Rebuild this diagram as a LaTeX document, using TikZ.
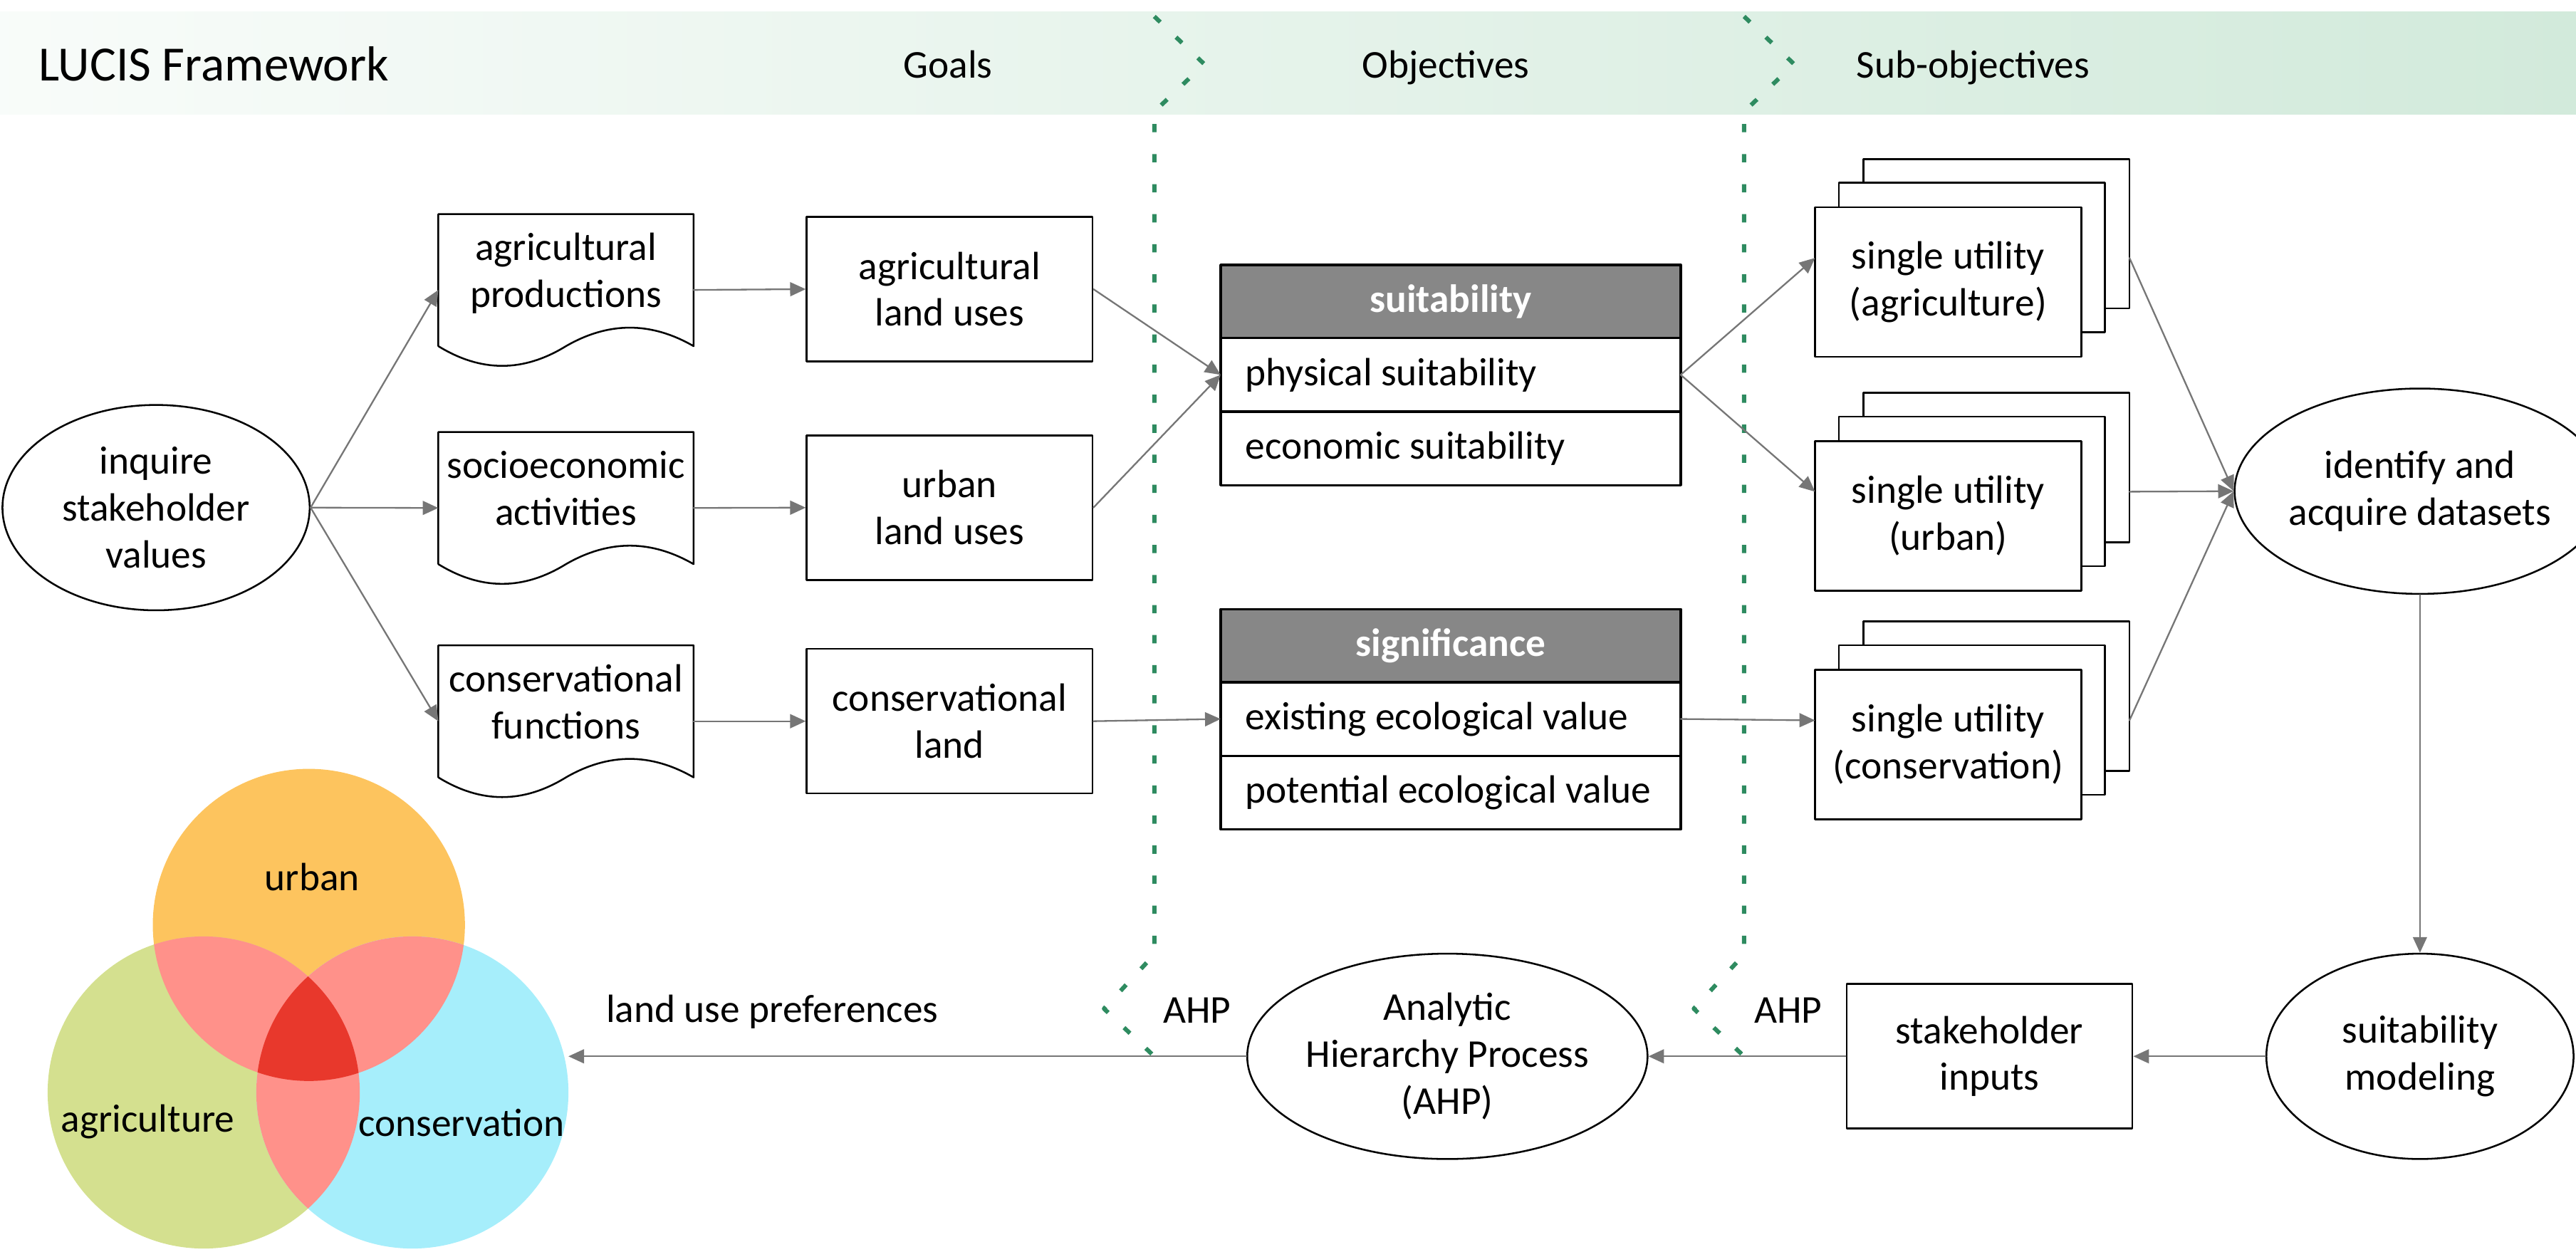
\documentclass[tikz,border=0pt]{standalone}
\usepackage{fontspec}
\setmainfont{Carlito}
\usepackage{tikz}
\newcommand{\rowtext}[1]{\makebox[250pt][l]{#1}}
\usetikzlibrary{calc}
\usetikzlibrary{arrows.meta}
\usetikzlibrary{positioning}
\usetikzlibrary{shapes.geometric}
\definecolor{bandgreen}{RGB}{210,234,219}
\definecolor{dashgreen}{RGB}{46,139,96}
\definecolor{headgray}{RGB}{135,135,135}
\definecolor{linegray}{RGB}{118,118,118}
\definecolor{urbc}{RGB}{253,196,94}
\definecolor{agric}{RGB}{212,224,143}
\definecolor{consc}{RGB}{166,238,251}
\definecolor{pairc}{RGB}{255,145,138}
\definecolor{triplec}{RGB}{232,56,44}
\tikzstyle{every node}=[font=\fontsize{24}{28.5}\selectfont]
\tikzstyle{ovalbox}=[ellipse,draw,line width=1.1pt,minimum width=187pt,minimum height=125pt,inner sep=0pt,align=center]
\tikzstyle{docbox}=[minimum width=155pt,minimum height=92pt,inner sep=0pt,text depth=24pt,align=center]
\tikzstyle{landbox}=[draw,line width=1.1pt,minimum width=174pt,minimum height=88pt,align=center]
\tikzstyle{tablehead}=[draw,fill=headgray,text=white,font=\fontsize{24}{28.5}\selectfont\bfseries,line width=1.5pt,minimum width=280pt,minimum height=44.5pt,outer sep=0pt]
\tikzstyle{tablerow}=[draw,line width=1.5pt,inner xsep=15pt,minimum width=280pt,minimum height=44.8pt,outer sep=0pt]
\tikzstyle{stackbox}=[minimum width=191pt,minimum height=120pt,inner sep=0pt]
\tikzstyle{utilbox}=[draw,fill=white,line width=1.1pt,minimum width=162pt,minimum height=91pt,align=center]
\tikzstyle{flow}=[draw=linegray,line width=1pt,->]
\tikzstyle{divider}=[draw=dashgreen,line width=2.6pt,line cap=butt,dash pattern=on 5pt off 13.3pt]

\begin{document}
\begin{tikzpicture}[line cap=round,line join=round,>={Triangle[length=9.5pt,width=8.5pt]},x=1pt,y=-1pt]
            \useasboundingbox (0,0) rectangle (1568,762);
            % header band
            \shade[left color=bandgreen!15,right color=bandgreen] (0,7.3) rectangle (1568,69.5);
            \node [anchor=base west,font=\fontsize{30}{36}\selectfont] (title) at (20,49) {LUCIS Framework};
            \node [anchor=base] (goals) at (577,47.6) {Goals};
            \node [anchor=base] (objs) at (880,47.6) {Objectives};
            \node [anchor=base] (subobjs) at (1201,47.6) {Sub-objectives};
            \draw [divider] (702.6,10) -- (733,39) -- (702.6,68) -- (702.6,581) -- (672,614) -- (702.6,643);
            \draw [divider] (1061.6,10) -- (1092,39) -- (1061.6,68) -- (1061.6,581) -- (1031,614) -- (1061.6,643);

            \node [ovalbox] (inq) at (95,309) {inquire\\stakeholder\\values};
            \node [docbox] (agprod) at (344.5,176.5) {agricultural\\productions};
            \node [docbox] (socio) at (344.5,309.2) {socioeconomic\\activities};
            \node [docbox] (consfun) at (344.5,439) {conservational\\functions};
            \draw [line width=1.1pt] (agprod.south west) ++(0,-12) |- (agprod.north east) -- ($(agprod.south east)+(0,-12)$) .. controls ($(agprod.south east)+(-26,-27)$) and ($(agprod.south)+(26,-27)$) .. ($(agprod.south)+(0,-12)$) .. controls ($(agprod.south)+(-26,4)$) and ($(agprod.south west)+(26,4)$) .. ($(agprod.south west)+(0,-12)$);
            \draw [line width=1.1pt] (socio.south west) ++(0,-12) |- (socio.north east) -- ($(socio.south east)+(0,-12)$) .. controls ($(socio.south east)+(-26,-27)$) and ($(socio.south)+(26,-27)$) .. ($(socio.south)+(0,-12)$) .. controls ($(socio.south)+(-26,4)$) and ($(socio.south west)+(26,4)$) .. ($(socio.south west)+(0,-12)$);
            \draw [line width=1.1pt] (consfun.south west) ++(0,-12) |- (consfun.north east) -- ($(consfun.south east)+(0,-12)$) .. controls ($(consfun.south east)+(-26,-27)$) and ($(consfun.south)+(26,-27)$) .. ($(consfun.south)+(0,-12)$) .. controls ($(consfun.south)+(-26,4)$) and ($(consfun.south west)+(26,4)$) .. ($(consfun.south west)+(0,-12)$);

            \node [landbox] (agland) at (578,176) {agricultural\\land uses};
            \node [landbox] (urbland) at (578,309) {urban\\land uses};
            \node [landbox] (consland) at (578,439) {conservational\\land};

            \node [tablehead] (suit) at (883,183.5) {suitability};
            \node [tablerow,below=0pt of suit] (phys) {\rowtext{physical suitability}};
            \node [tablerow,below=0pt of phys] (econ) {\rowtext{economic suitability}};
            \node [tablehead] (signif) at (883,393) {significance};
            \node [tablerow,below=0pt of signif] (exist) {\rowtext{existing ecological value}};
            \node [tablerow,below=0pt of exist] (poten) {\rowtext{potential ecological value}};

            % stacked utility sheets
            \node [stackbox] (agu) at (1200.5,157) {};
            \draw [fill=white,line width=1.1pt] ($(agu.north east)+(-162,0)$) rectangle ($(agu.north east)+(0,91)$);
            \draw [fill=white,line width=1.1pt] ($(agu.north west)+(14.5,14.5)$) rectangle ($(agu.north west)+(176.5,105.5)$);
            \node [utilbox] (agutxt) at ($(agu.south west)+(81,-45.5)$) {single utility\\(agriculture)};
            \node [stackbox] (urbu) at (1200.5,299.3) {};
            \draw [fill=white,line width=1.1pt] ($(urbu.north east)+(-162,0)$) rectangle ($(urbu.north east)+(0,91)$);
            \draw [fill=white,line width=1.1pt] ($(urbu.north west)+(14.5,14.5)$) rectangle ($(urbu.north west)+(176.5,105.5)$);
            \node [utilbox] (urbutxt) at ($(urbu.south west)+(81,-45.5)$) {single utility\\(urban)};
            \node [stackbox] (consu) at (1200.5,438.5) {};
            \draw [fill=white,line width=1.1pt] ($(consu.north east)+(-162,0)$) rectangle ($(consu.north east)+(0,91)$);
            \draw [fill=white,line width=1.1pt] ($(consu.north west)+(14.5,14.5)$) rectangle ($(consu.north west)+(176.5,105.5)$);
            \node [utilbox] (consutxt) at ($(consu.south west)+(81,-45.5)$) {single utility\\(conservation)};

            \node [ovalbox] (ident) at (1473,299) {identify and\\acquire datasets};
            \node [ovalbox] (suitmod) at (1473,643) {suitability\\modeling};
            \node [landbox] (stakein) at (1211,643) {stakeholder\\inputs};
            \node [ovalbox] (ahp) at (881,643) {Analytic\\Hierarchy Process\\(AHP)};

            % venn of land uses
            \fill [urbc] (188,563) circle (95pt);
            \fill [agric] (124,665) circle (95pt);
            \fill [consc] (251,665) circle (95pt);
            \begin{scope}
            \clip (188,563) circle (95pt);
            \fill [pairc] (124,665) circle (95pt);
            \fill [pairc] (251,665) circle (95pt);
            \end{scope}
            \begin{scope}
            \clip (124,665) circle (95pt);
            \fill [pairc] (251,665) circle (95pt);
            \end{scope}
            \begin{scope}
            \clip (188,563) circle (95pt);
            \clip (124,665) circle (95pt);
            \fill [triplec] (251,665) circle (95pt);
            \end{scope}
            \node [anchor=base] (urbtxt) at (190,542) {urban};
            \node [anchor=base] (agritxt) at (90,689) {agriculture};
            \node [anchor=base] (constxt) at (281,691.5) {conservation};
            \coordinate (vennin) at (346,643);

            \node [anchor=base] (pref) at (470,622.3) {land use preferences};
            \node [anchor=base] (ahpa) at (728.6,622.7) {AHP};
            \node [anchor=base] (ahpb) at (1088.5,622.7) {AHP};

            % connectors
            \draw [flow] (inq.east) -- (agprod.west);
            \draw [flow] (inq.east) -- (socio.west);
            \draw [flow] (inq.east) -- (consfun.west);
            \draw [flow] (agprod.east) -- (agland.west);
            \draw [flow] (socio.east) -- (urbland.west);
            \draw [flow] (consfun.east) -- (consland.west);
            \draw [flow] (agland.east) -- (phys.west);
            \draw [flow] (urbland.east) -- (phys.west);
            \draw [flow] (consland.east) -- (exist.west);
            \draw [flow] (phys.east) -- (agu.west);
            \draw [flow] (phys.east) -- (urbu.west);
            \draw [flow] (exist.east) -- (consu.west);
            \draw [flow] (agu.east) -- (ident.west);
            \draw [flow] (urbu.east) -- (ident.west);
            \draw [flow] (consu.east) -- (ident.west);
            \draw [flow] (ident.south) -- (suitmod.north);
            \draw [flow] (suitmod.west) -- (stakein.east);
            \draw [flow] (stakein.west) -- (ahp.east);
            \draw [flow] (ahp.west) -- (vennin);
            \end{tikzpicture}
\end{document}
